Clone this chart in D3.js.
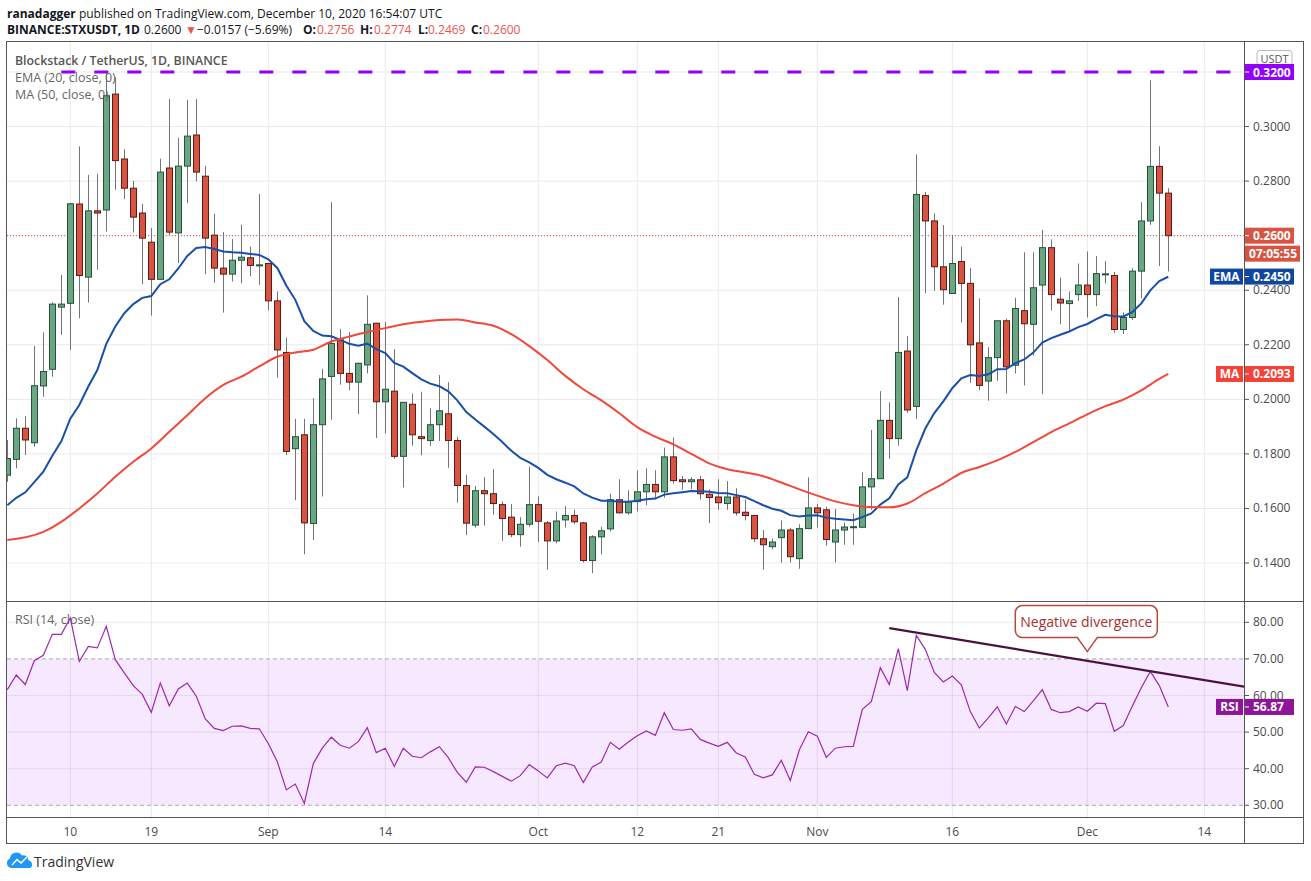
<!DOCTYPE html>
<html>
<head>
<meta charset="utf-8">
<script src="https://cdn.jsdelivr.net/npm/d3@7"></script>
<style>
  body{
    margin: 0;
    padding: 0;
    background-color: white;
  }
  svg text{
    font-family: "Open Sans", "Noto Sans", sans-serif;
  }
</style>
</head>
<body>
<svg id="chart" width="1311" height="881"></svg>
<script>
// daily candles from Aug 3 to Dec 10 2020, one value per day
var firstDay = "2020-08-03";

var open = [.1722,.1780,.1894,.1841,.2049,.2110,.2338,.2352,.2716,.2448,.2691,.2694,.3119,.2881,.2774,.2683,.2576,.2440,.2848,.2610,.2855,.2969,.2818,.2602,.2481,.2459,.2510,.2519,.2490,
  .2498,.2361,.2172,.1819,.1870,.1545,.1907,.2084,.2218,.2095,.2063,.2126,.2279,.1991,.2030,.1791,.1982,.1863,.1849,.1907,.1947,.1849,.1684,.1539,.1665,.1654,.1614,.1568,.1504,.1542,
  .1614,.1547,.1481,.1558,.1574,.1547,.1409,.1496,.1525,.1632,.1584,.1625,.1661,.1688,.1661,.1789,.1705,.1698,.1705,.1652,.1642,.1618,.1642,.1586,.1574,.1489,.1460,.1493,.1521,.1416,.1526,
  .1602,.1595,.1477,.1521,.1531,.1531,.1679,.1709,.1923,.1856,.2177,.1974,.2747,.2654,.2486,.2388,.2505,.2425,.2207,.2067,.2153,.2288,.2125,.2325,.2275,.2419,.2556,.2367,.2351,.2384,
  .2419,.2384,.2458,.2454,.2256,.2300,.2470,.2654,.2854,.2756];
var high = [.1851,.1930,.1939,.2196,.2246,.2356,.2456,.2720,.2927,.2823,.2827,.3196,.3180,.2917,.2801,.2717,.2628,.2882,.3101,.2959,.3098,.3101,.2856,.2680,.2613,.2588,.2640,.2560,.2753,
  .2500,.2396,.2226,.1928,.1928,.2004,.2112,.2723,.2258,.2247,.2135,.2381,.2280,.2284,.2184,.1990,.2021,.2028,.1967,.2089,.2063,.1863,.1723,.1682,.1714,.1744,.1626,.1616,.1568,.1753,
  .1644,.1554,.1589,.1609,.1595,.1551,.1502,.1533,.1654,.1707,.1667,.1740,.1747,.1740,.1823,.1860,.1719,.1715,.1719,.1670,.1707,.1700,.1674,.1633,.1575,.1521,.1490,.1556,.1528,.1542,.1714,
  .1616,.1607,.1598,.1549,.1581,.1732,.1888,.2030,.1989,.2375,.2232,.2898,.2760,.2682,.2639,.2602,.2560,.2481,.2370,.2191,.2288,.2296,.2372,.2539,.2539,.2621,.2586,.2446,.2396,.2498,
  .2542,.2525,.2507,.2467,.2319,.2481,.2723,.3170,.2928,.2774];
var low = [.1698,.1747,.1796,.1826,.2010,.2083,.2236,.2181,.2297,.2355,.2475,.2615,.2768,.2734,.2612,.2422,.2307,.2438,.2603,.2499,.2719,.2799,.2459,.2428,.2318,.2432,.2425,.2451,.2419,
  .2326,.2079,.1796,.1630,.1432,.1484,.1644,.1925,.2054,.2033,.1946,.2095,.1858,.1875,.1782,.1677,.1830,.1795,.1830,.1847,.1749,.1621,.1502,.1530,.1537,.1577,.1481,.1495,.1460,.1533,
  .1477,.1375,.1472,.1530,.1542,.1402,.1363,.1432,.1516,.1581,.1577,.1589,.1612,.1639,.1639,.1691,.1668,.1670,.1633,.1546,.1595,.1595,.1574,.1556,.1477,.1375,.1450,.1402,.1402,.1379,.1524,
  .1530,.1463,.1402,.1467,.1467,.1531,.1595,.1709,.1782,.1830,.1951,.1928,.2389,.2398,.2347,.2388,.2282,.2060,.2033,.1995,.2068,.2021,.2095,.2051,.2160,.2019,.2326,.2275,.2253,.2361,
  .2300,.2342,.2425,.2244,.2239,.2291,.2370,.2640,.2489,.2469];
var close = [.1783,.1894,.1851,.2050,.2102,.2349,.2349,.2717,.2454,.2691,.2683,.3113,.2875,.2774,.2668,.2591,.2440,.2833,.2613,.2855,.2965,.2833,.2591,.2481,.2459,.2510,.2521,.2491,.2493,
  .2361,.2181,.1809,.1863,.1547,.1907,.2075,.2205,.2095,.2063,.2132,.2275,.1991,.2037,.1791,.1989,.1870,.1856,.1907,.1958,.1849,.1684,.1546,.1665,.1654,.1618,.1563,.1504,.1542,.1614,
  .1553,.1481,.1554,.1574,.1551,.1409,.1496,.1518,.1632,.1584,.1625,.1661,.1688,.1661,.1789,.1702,.1698,.1705,.1654,.1640,.1621,.1642,.1584,.1574,.1489,.1467,.1477,.1521,.1423,.1526,.1602,
  .1584,.1486,.1521,.1532,.1533,.1679,.1709,.1923,.1856,.2172,.1961,.2751,.2654,.2486,.2402,.2498,.2425,.2200,.2051,.2153,.2288,.2119,.2333,.2277,.2409,.2556,.2384,.2353,.2361,.2419,
  .2384,.2461,.2460,.2256,.2300,.2470,.2654,.2854,.2756,.2600];

var rsi = [61.6,65.6,63.0,69.5,71.0,76.7,76.7,81.2,69.3,73.4,73.0,78.9,69.8,66.2,62.7,60.3,55.4,63.4,57.2,61.8,63.4,59.8,53.6,51.0,50.4,51.6,51.7,51.0,50.9,
  46.9,41.9,34.2,35.8,30.5,41.4,45.6,48.6,46.4,45.6,47.4,51.2,44.4,45.6,40.6,45.6,43.4,43.0,44.6,46.0,43.0,39.0,36.3,40.5,40.4,39.2,37.9,36.6,38.1,41.1,
  39.4,37.5,40.8,41.5,40.8,36.2,40.5,41.8,47.2,45.3,47.3,49.0,50.3,49.1,55.3,50.7,50.5,50.9,48.0,47.0,46.1,47.2,44.3,43.2,38.5,37.5,38.3,42.3,36.8,45.1,50.1,
  48.9,43.1,45.6,46.0,46.1,56.2,58.3,67.6,63.0,72.8,61.3,76.4,72.6,66.3,63.7,65.3,62.9,55.6,51.1,53.9,56.9,52.2,57.0,55.6,58.5,61.6,56.2,55.3,55.6,56.9,
  55.7,57.9,57.8,50.2,51.8,57.1,62.1,66.6,62.7,56.87];

// 50-day MA every two days
var maDates = ["2020-08-03","2020-08-07","2020-08-09","2020-08-11","2020-08-13","2020-08-15","2020-08-17","2020-08-19","2020-08-21","2020-08-23","2020-08-25","2020-08-27","2020-08-29","2020-08-31",
  "2020-09-02","2020-09-04","2020-09-06","2020-09-08","2020-09-10","2020-09-12","2020-09-14","2020-09-16","2020-09-18","2020-09-20","2020-09-22","2020-09-24","2020-09-26","2020-09-28","2020-09-30",
  "2020-10-02","2020-10-04","2020-10-06","2020-10-08","2020-10-10","2020-10-12","2020-10-14","2020-10-16","2020-10-18","2020-10-20","2020-10-22","2020-10-24","2020-10-26","2020-10-28","2020-10-30",
  "2020-11-01","2020-11-03","2020-11-05","2020-11-07","2020-11-09","2020-11-11","2020-11-13","2020-11-15","2020-11-17","2020-11-19","2020-11-21","2020-11-23","2020-11-25","2020-11-27","2020-11-29",
  "2020-12-01","2020-12-03","2020-12-05","2020-12-07","2020-12-09","2020-12-10"];
var maValues = [.1484,.1514,.1551,.1600,.1655,.1716,.1771,.1820,.1881,.1942,.2004,.2053,.2083,.2121,
  .2156,.2172,.2182,.2212,.2230,.2247,.2261,.2275,.2284,.2291,.2293,.2282,.2270,.2239,.2195,
  .2144,.2086,.2037,.1996,.1949,.1898,.1863,.1835,.1800,.1765,.1744,.1732,.1718,.1695,.1670,
  .1647,.1626,.1612,.1605,.1604,.1618,.1656,.1691,.1730,.1752,.1776,.1807,.1843,.1880,.1912,
  .1945,.1975,.1999,.2033,.2075,.2093];

var emaSeed = 0.1612;   // EMA(20) value on the first visible day

var tickDates = ["2020-08-10","2020-08-19","2020-09-01","2020-09-14","2020-10-01","2020-10-12","2020-10-21","2020-11-01","2020-11-16","2020-12-01","2020-12-14"];
var tickLabels = ["10","19","Sep","14","Oct","12","21","Nov","16","Dec","14"];
var priceTicks = [0.14,0.16,0.18,0.20,0.22,0.24,0.26,0.28,0.30,0.32];
var rsiTicks = [30,40,50,60,70,80];

var resistance = 0.32, resistanceFrom = "2020-08-09";
var lastPrice = 0.26, countdown = "07:05:55";
var emaLabel = 0.2450, maLabel = 0.2093, rsiLabel = 56.87;
var divergence = [["2020-11-09", 78.4], ["2020-12-19", 62.2]];
var calloutAt = ["2020-12-01", 72], calloutText = "Negative divergence";

var svg = d3.select("#chart");
var L = 7, R = 1244, OR = 1304, T = 42, SPLIT = 601, RB = 817, B = 844;

var x = d3.scaleUtc().domain([new Date("2020-08-10"), new Date("2020-12-10")]).range([70.3, 1168.3]);
var y = d3.scaleLinear().domain([0.14, 0.32]).range([563, 72]);
var yr = d3.scaleLinear().domain([30, 80]).range([805.3, 622.3]);

var dates = open.map(function(d, i){ return new Date(+new Date(firstDay) + i * 864e5); });

svg.append("rect").attr("width", 1311).attr("height", 881).attr("fill", "#fff");

var defs = svg.append("defs");
defs.append("clipPath").attr("id", "clipP").append("rect").attr("x", L).attr("y", T).attr("width", R - L).attr("height", SPLIT - T);
defs.append("clipPath").attr("id", "clipR").append("rect").attr("x", L).attr("y", SPLIT).attr("width", R - L).attr("height", RB - SPLIT);

// header
var h1 = svg.append("text").attr("x", 7).attr("y", 18).style("font-size", "12px").attr("fill", "#131722");
h1.append("tspan").style("font-weight", "bold").text("ranadagger");
h1.append("tspan").text(" published on TradingView.com, December 10, 2020 16:54:07 UTC");
var h2 = svg.append("text").attr("y", 34).style("font-size", "12px").attr("fill", "#131722");
h2.append("tspan").attr("x", 7).style("font-weight", "bold").text("BINANCE:STXUSDT, 1D");
h2.append("tspan").attr("x", 144).text("0.2600");
h2.append("tspan").attr("x", 185).attr("fill", "#ef5350").text("▼");
h2.append("tspan").attr("x", 197).text("−0.0157 (−5.69%)");
[["O:", "0.2756", 303, 317], ["H:", "0.2774", 360, 374], ["L:", "0.2469", 418, 428], ["C:", "0.2600", 471, 483]].forEach(function(p){
  h2.append("tspan").attr("x", p[2]).style("font-weight", "bold").text(p[0]);
  h2.append("tspan").attr("x", p[3]).attr("fill", "#ef5350").text(p[1]);
});

// grid
var grid = svg.append("g");
grid.selectAll(".vg").data(tickDates).enter().append("line")
  .attr("x1", function(d){ return x(new Date(d)); }).attr("x2", function(d){ return x(new Date(d)); })
  .attr("y1", T).attr("y2", RB).attr("stroke", "#e9e9ea");
grid.selectAll(".hg").data(priceTicks).enter().append("line")
  .attr("x1", L).attr("x2", R).attr("y1", function(d){ return y(d); }).attr("y2", function(d){ return y(d); })
  .attr("stroke", "#e9e9ea");

// rsi band
svg.append("rect").attr("x", L).attr("width", R - L).attr("y", yr(70)).attr("height", yr(30) - yr(70))
  .attr("fill", "rgba(149,0,255,0.09)");
svg.selectAll(".rg").data(rsiTicks).enter().append("line")
  .attr("x1", L).attr("x2", R).attr("y1", function(d){ return yr(d); }).attr("y2", function(d){ return yr(d); })
  .attr("stroke", function(d){ return (d == 30 || d == 70) ? "#a9a9b0" : "rgba(120,90,150,0.13)"; })
  .attr("stroke-dasharray", function(d){ return (d == 30 || d == 70) ? "4,3" : null; });

// frame
var frame = svg.append("g").attr("stroke", "#555").attr("fill", "none");
frame.append("rect").attr("x", L - 0.5).attr("y", T - 0.5).attr("width", OR - L).attr("height", B - T);
frame.append("line").attr("x1", L).attr("x2", OR).attr("y1", SPLIT + 0.5).attr("y2", SPLIT + 0.5);
frame.append("line").attr("x1", L).attr("x2", OR).attr("y1", RB + 0.5).attr("y2", RB + 0.5);
frame.append("line").attr("x1", R + 0.5).attr("x2", R + 0.5).attr("y1", T).attr("y2", B);

// price pane
var pane = svg.append("g").attr("clip-path", "url(#clipP)");

pane.append("line").attr("x1", L).attr("x2", R).attr("y1", y(lastPrice)).attr("y2", y(lastPrice))
  .attr("stroke", "#d75442").attr("stroke-dasharray", "1,2");

pane.append("line").attr("x1", x(new Date(resistanceFrom))).attr("x2", R)
  .attr("y1", y(resistance)).attr("y2", y(resistance))
  .attr("stroke", "#9100ff").attr("stroke-width", 3).attr("stroke-dasharray", "14,19");

var candles = pane.selectAll(".c").data(dates).enter().append("g");
candles.append("line")
  .attr("x1", function(d){ return Math.round(x(d)) + 0.5; }).attr("x2", function(d){ return Math.round(x(d)) + 0.5; })
  .attr("y1", function(d, i){ return y(high[i]); }).attr("y2", function(d, i){ return y(low[i]); })
  .attr("stroke", "#737375");
candles.append("rect")
  .attr("x", function(d){ return Math.round(x(d)) - 2.5; })
  .attr("width", 6)
  .attr("y", function(d, i){ return y(Math.max(open[i], close[i])); })
  .attr("height", function(d, i){ return Math.max(1, Math.abs(y(open[i]) - y(close[i]))); })
  .attr("fill", function(d, i){ return close[i] >= open[i] ? "#6ba583" : "#d75442"; })
  .attr("stroke", function(d, i){ return close[i] >= open[i] ? "#225437" : "#5b1a13"; });

// EMA(20) from the closes
var ema = [];
close.forEach(function(c, i){
  ema.push(i == 0 ? emaSeed : ema[i - 1] + (2 / 21) * (c - ema[i - 1]));
});
var priceLine = d3.line().x(function(d){ return x(d[0]); }).y(function(d){ return y(d[1]); });
pane.append("path").datum(dates.map(function(d, i){ return [d, ema[i]]; }))
  .attr("d", priceLine).attr("fill", "none").attr("stroke", "#1a4fa8").attr("stroke-width", 2);
pane.append("path").datum(maDates.map(function(d, i){ return [new Date(d), maValues[i]]; }))
  .attr("d", priceLine.curve(d3.curveMonotoneX)).attr("fill", "none").attr("stroke", "#f2473a").attr("stroke-width", 2);

// legend
svg.append("text").attr("x", 15).attr("y", 65).style("font-size", "12.3px").style("font-weight", 600).attr("fill", "#555").text("Blockstack / TetherUS, 1D, BINANCE");
svg.append("text").attr("x", 15).attr("y", 82).style("font-size", "12.5px").attr("fill", "#666").text("EMA (20, close, 0)");
svg.append("text").attr("x", 15).attr("y", 99).style("font-size", "12.5px").attr("fill", "#666").text("MA (50, close, 0)");
svg.append("text").attr("x", 15).attr("y", 624).style("font-size", "12.5px").attr("fill", "#666").text("RSI (14, close)");

// rsi pane
var rpane = svg.append("g").attr("clip-path", "url(#clipR)");
rpane.append("path").datum(dates.map(function(d, i){ return [d, rsi[i]]; }))
  .attr("d", d3.line().x(function(d){ return x(d[0]); }).y(function(d){ return yr(d[1]); }))
  .attr("fill", "none").attr("stroke", "#9c2aaf").attr("stroke-width", 1.2);
rpane.append("line")
  .attr("x1", x(new Date(divergence[0][0]))).attr("y1", yr(divergence[0][1]))
  .attr("x2", x(new Date(divergence[1][0]))).attr("y2", yr(divergence[1][1]))
  .attr("stroke", "#4b1239").attr("stroke-width", 2.2);

// callout
var ax = x(new Date(calloutAt[0])), ay = yr(calloutAt[1]);
var bl = ax - 72, br = ax + 70, bt = ay - 46, bb = ay - 14, r = 7;
var cp = d3.path();
cp.moveTo(bl + r, bt); cp.lineTo(br - r, bt); cp.arcTo(br, bt, br, bt + r, r);
cp.lineTo(br, bb - r); cp.arcTo(br, bb, br - r, bb, r);
cp.lineTo(ax + 10, bb); cp.lineTo(ax, ay); cp.lineTo(ax - 10, bb);
cp.lineTo(bl + r, bb); cp.arcTo(bl, bb, bl, bb - r, r);
cp.lineTo(bl, bt + r); cp.arcTo(bl, bt, bl + r, bt, r); cp.closePath();
svg.append("path").attr("d", cp.toString()).attr("fill", "#fff").attr("stroke", "#b9473f").attr("stroke-width", 1.5);
svg.append("text").attr("x", (bl + br) / 2).attr("y", bt + 21).attr("text-anchor", "middle")
  .style("font-size", "14px").attr("fill", "#a8302b").text(calloutText);

// right axis (the 0.32 tick text sits under its purple tag)
var axisG = svg.append("g").style("font-size", "12px").attr("fill", "#4a4a4a");
priceTicks.forEach(function(p){
  axisG.append("line").attr("x1", R).attr("x2", R + 5).attr("y1", y(p)).attr("y2", y(p)).attr("stroke", "#555");
  if (p != resistance) axisG.append("text").attr("x", R + 9).attr("y", y(p) + 4).text(p.toFixed(4));
});
rsiTicks.forEach(function(v){
  axisG.append("line").attr("x1", R).attr("x2", R + 5).attr("y1", yr(v)).attr("y2", yr(v)).attr("stroke", "#555");
  axisG.append("text").attr("x", R + 9).attr("y", yr(v) + 4).text(v.toFixed(2));
});
tickDates.forEach(function(d, i){
  axisG.append("text").attr("x", x(new Date(d))).attr("y", 836).attr("text-anchor", "middle").text(tickLabels[i]);
});

// USDT box
svg.append("rect").attr("x", 1257).attr("y", 50.5).attr("width", 35).attr("height", 16).attr("rx", 3)
  .attr("fill", "#fff").attr("stroke", "#b8b8b8");
svg.append("text").attr("x", 1274.5).attr("y", 62.5).attr("text-anchor", "middle").style("font-size", "11px").attr("fill", "#555").text("USDT");

function tag(cy, txt, color, label, labelW){
  var g = svg.append("g");
  g.append("rect").attr("x", R + 1).attr("y", cy - 8).attr("width", 49).attr("height", 16).attr("fill", color);
  g.append("line").attr("x1", R + 1).attr("x2", R + 5).attr("y1", cy).attr("y2", cy).attr("stroke", "#fff");
  g.append("text").attr("x", R + 9).attr("y", cy + 4.5).style("font-size", "12px").style("font-weight", "bold").attr("fill", "#fff").text(txt);
  if (label){
    g.append("rect").attr("x", R - labelW - 1).attr("y", cy - 8).attr("width", labelW).attr("height", 16).attr("fill", color);
    g.append("text").attr("x", R - 1 - labelW / 2).attr("y", cy + 4.5).attr("text-anchor", "middle")
      .style("font-size", "12px").style("font-weight", "bold").attr("fill", "#fff").text(label);
  }
}
tag(y(resistance), resistance.toFixed(4), "#9100ff");
tag(y(lastPrice), lastPrice.toFixed(4), "#d75442");
svg.append("rect").attr("x", R + 1).attr("y", y(lastPrice) + 10).attr("width", 55).attr("height", 16).attr("fill", "#d75442");
svg.append("text").attr("x", R + 5).attr("y", y(lastPrice) + 22.5).style("font-size", "12px").style("font-weight", "bold").attr("fill", "#fff").text(countdown);
tag(y(emaLabel), emaLabel.toFixed(4), "#0f47a0", "EMA", 33);
tag(y(maLabel), maLabel.toFixed(4), "#f44336", "MA", 27);
tag(yr(rsiLabel), rsiLabel.toFixed(2), "#8e1599", "RSI", 27);

// footer logo
var logo = svg.append("g");
logo.append("path").attr("d", "M11,868 a5,5 0 0 1 -1,-9.5 a6.5,6.5 0 0 1 12,-3 a5,5 0 0 1 6.5,5 a4,4 0 0 1 1.5,7.5 z").attr("fill", "#2196f3");
logo.append("polyline").attr("points", "12,865 17,859.5 21,863 27,857").attr("fill", "none").attr("stroke", "#fff").attr("stroke-width", 1.6);
svg.append("text").attr("x", 34).attr("y", 867).style("font-size", "14px").attr("fill", "#333").text("TradingView");
</script>
</body>
</html>
